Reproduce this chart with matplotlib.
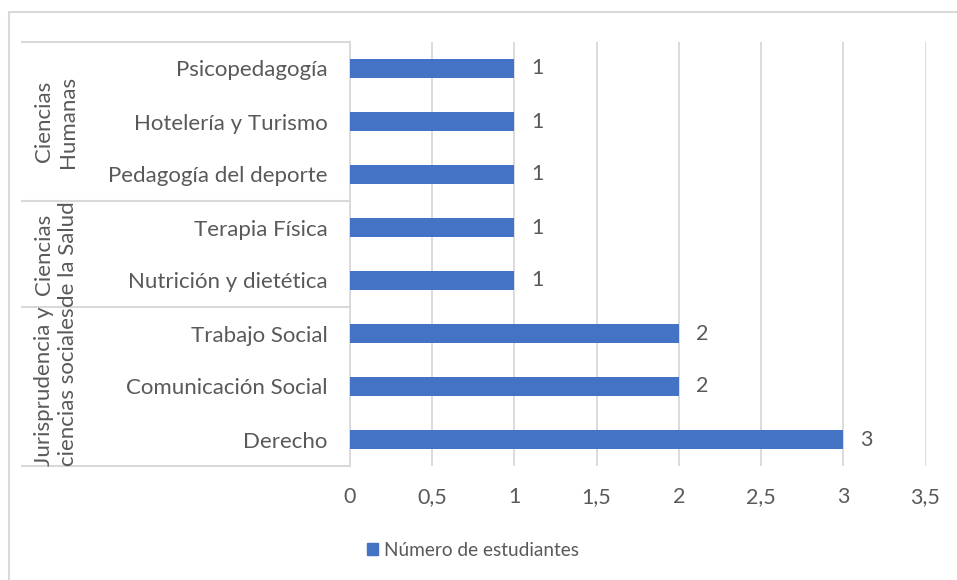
import matplotlib
matplotlib.use("Agg")
import matplotlib.pyplot as plt
from matplotlib.patches import Rectangle
from matplotlib.lines import Line2D
from matplotlib.transforms import blended_transform_factory

# data, bottom to top
carreras = ["Derecho", "Comunicación Social", "Trabajo Social",
            "Nutrición y dietética", "Terapia Física",
            "Pedagogía del deporte", "Hotelería y Turismo", "Psicopedagogía"]
estudiantes = [3, 2, 2, 1, 1, 1, 1, 1]
grupos = ["Jurisprudencia y\nciencias sociales", "Ciencias\nde la Salud", "Ciencias\nHumanas"]
grupo_n = [3, 2, 3]
x_ticks = [0, 0.5, 1, 1.5, 2, 2.5, 3, 3.5]
x_tick_labels = ["0", "0,5", "1", "1,5", "2", "2,5", "3", "3,5"]

azul = "#4472C4"
gris_txt = "#595959"
gris_lin = "#D9D9D9"

plt.rcParams["font.family"] = ["Lato", "DejaVu Sans"]
W, H = 957, 580
fig = plt.figure(figsize=(W / 100, H / 100), dpi=100)

# chart border
fig.patches.append(Rectangle((9 / W, -0.1), 1.1, 1 - 12 / H + 0.1, transform=fig.transFigure,
                             fill=False, edgecolor=gris_lin, linewidth=1.5))

ax = fig.add_axes([350 / W, 1 - 466 / H, 575.5 / W, 424 / H])
y = list(range(len(carreras)))
bars = ax.barh(y, estudiantes, height=0.34, color=azul, zorder=3)
ax.bar_label(bars, labels=[str(v) for v in estudiantes], padding=12,
             color=gris_txt, fontsize=15.5)

ax.set_xlim(0, 3.5)
ax.set_ylim(-0.5, len(carreras) - 0.5)
ax.set_xticks(x_ticks)
ax.set_xticklabels(x_tick_labels)
ax.set_yticks(y)
ax.set_yticklabels(carreras)
ax.tick_params(axis="x", length=0, pad=15, labelsize=15.5, labelcolor=gris_txt)
ax.tick_params(axis="y", length=0, pad=16, labelsize=16, labelcolor=gris_txt)
ax.grid(axis="x", color=gris_lin, linewidth=1.3, zorder=0)
for s in ["top", "right", "bottom"]:
    ax.spines[s].set_visible(False)
ax.spines["left"].set_color(gris_lin)
ax.spines["left"].set_linewidth(1.3)

# group table on the left
tr = blended_transform_factory(fig.transFigure, ax.transData)
x0, x1 = 22 / W, 350 / W
limite = -0.5
lims = [limite]
for n in grupo_n:
    limite += n
    lims.append(limite)
for b in lims:
    fig.lines.append(Line2D([x0, x1], [b, b], transform=tr, color=gris_lin, linewidth=1.5))
for g, a, b in zip(grupos, lims[:-1], lims[1:]):
    fig.text(56 / W, (a + b) / 2, g, transform=tr, rotation=90, ha="center", va="center",
             fontsize=16, color=gris_txt, linespacing=1.2)

# legend
h = Rectangle((0, 0), 1, 1, color=azul)
fig.legend([h], ["Número de estudiantes"], loc="center", bbox_to_anchor=(473 / W, 1 - 550 / H),
           frameon=False, fontsize=13.7, labelcolor=gris_txt, handlelength=0.6, handleheight=0.6,
           handletextpad=0.3)

fig.savefig("out.png", dpi=100)
